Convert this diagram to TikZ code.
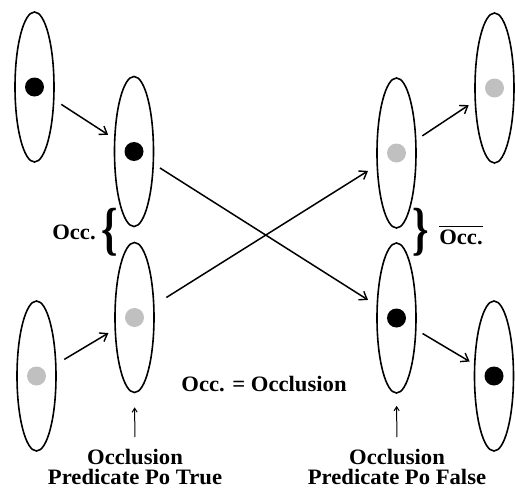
\documentclass[tikz,border=0pt]{standalone}
\usepackage{fontspec}
\setmainfont{Liberation Serif}
\usetikzlibrary{shapes.geometric,arrows.meta}
\definecolor{dotgrey}{HTML}{C0C0C0}
\begin{document}
\begin{tikzpicture}[x=1pt,y=-1pt,
  cell/.style={draw, ellipse, line width=1.6pt, minimum width=39pt,
    minimum height=150pt, inner sep=0pt},
  blackdot/.style={circle, fill=black, minimum size=19pt, inner sep=0pt},
  greydot/.style={circle, fill=dotgrey, minimum size=19pt, inner sep=0pt},
  link/.style={line width=1.5pt,
    -{Straight Barb[length=7pt,width=10pt,line width=1.4pt]}},
  pointer/.style={line width=1pt,
    -{Straight Barb[length=4pt,width=5pt,line width=1pt]}},
  lbl/.style={font=\bfseries\fontsize{22}{20}\selectfont, inner sep=0pt,
    xscale=1.03},
  bracechar/.style={font=\bfseries\fontsize{58}{58}\selectfont, inner sep=0pt,
    xscale=0.72}
]
\useasboundingbox (0,0) rectangle (515,490);

% left column of cells
\node[cell] (a1) at (34.5,87) {};
\node[cell] (a2) at (134,151.5) {};
\node[cell] (a3) at (134.5,317.5) {};
\node[cell] (a4) at (36.5,376) {};
% right column of cells
\node[cell] (b1) at (494.5,88) {};
\node[cell] (b2) at (396.5,153) {};
\node[cell] (b3) at (396.5,318) {};
\node[cell] (b4) at (494,376) {};

% dots inside the cells
\node[blackdot] (da1) at (a1) {};
\node[blackdot] (da2) at (a2) {};
\node[greydot]  (da3) at (a3) {};
\node[greydot]  (da4) at (a4) {};
\node[greydot]  (db1) at (b1) {};
\node[greydot]  (db2) at (b2) {};
\node[blackdot] (db3) at (b3) {};
\node[blackdot] (db4) at (b4) {};

% transitions
\draw[link, shorten <=8pt, shorten >=7pt] (a1) -- (a2);
\draw[link, shorten <=7pt, shorten >=10pt] (a2) -- (b3);
\draw[link, shorten <=14pt, shorten >=10pt] (a3) -- (b2);
\draw[link, shorten <=7pt, shorten >=7pt] (b2) -- (b1);
\draw[link, shorten <=9pt, shorten >=7pt] (a4) -- (a3);
\draw[link, shorten <=7pt, shorten >=5pt] (b3) -- (b4);

% braces and their labels
\node[bracechar] (lb) at (110,232) {\{};
\node[lbl, anchor=base] (occl) at (74,239) {Occ.};
\node[bracechar] (rb) at (421,232) {\}};
\node[lbl, anchor=base] (occr) at (461,244) {Occ.};
\draw[line width=1.2pt] ([yshift=3pt]occr.north west) -- ([yshift=3pt]occr.north east);

% legend
\node[lbl, anchor=base] (key) at (264,391) {Occ. = Occlusion};

% predicate labels under the middle cells
\node[lbl, align=center, anchor=north] (pt) at (135,449) {Occlusion\\Predicate Po True};
\node[lbl, align=center, anchor=north] (pf) at (397,449) {Occlusion\\Predicate Po False};
\draw[pointer, shorten <=12pt, shorten >=14pt] (pt.north) -- (a3.south);
\draw[pointer, shorten <=12pt, shorten >=12pt] (pf.north) -- (b3.south);
\end{tikzpicture}
\end{document}
